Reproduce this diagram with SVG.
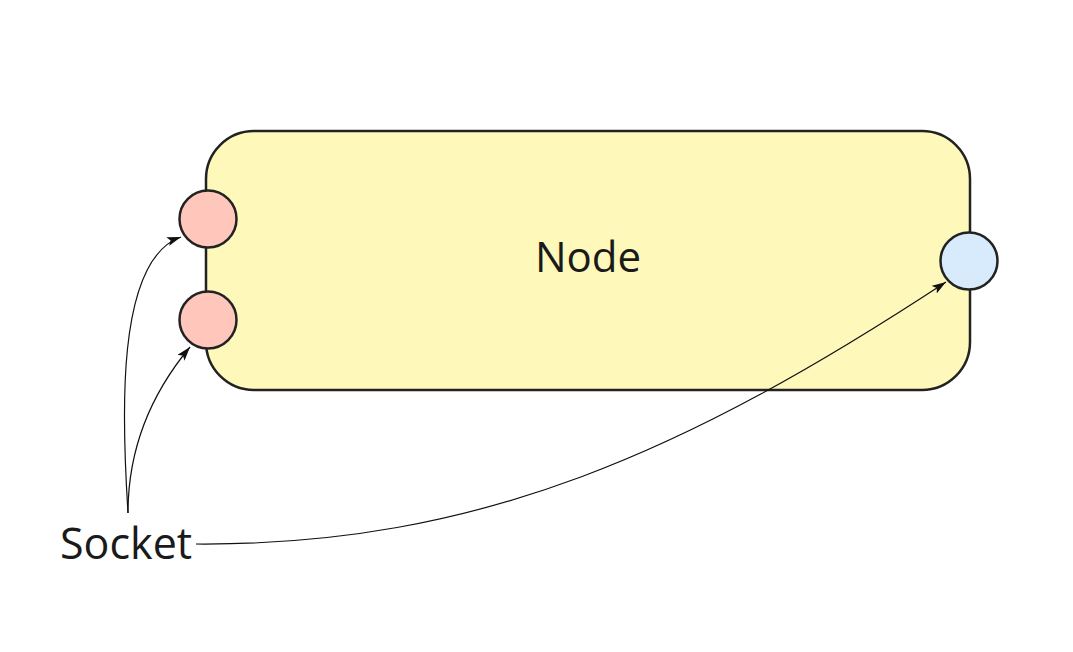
<svg xmlns="http://www.w3.org/2000/svg" width="1073" height="652" viewBox="0 0 1073 652">
<defs>
<marker id="arr" viewBox="0 0 14 10" refX="14" refY="5" markerWidth="14" markerHeight="9" markerUnits="userSpaceOnUse" orient="auto" preserveAspectRatio="none">
<path d="M0,0 L14,5 L0,10 L3,5 Z" fill="#111"/>
</marker>
<style>
.lbl{font-family:"Open Sans","Noto Sans",sans-serif;font-size:42px;fill:#1a1a1a}
.sock{stroke:#222;stroke-width:2.5}
.conn{fill:none;stroke:#111;stroke-width:1.2;marker-end:url(#arr)}
</style>
</defs>
<rect width="1073" height="652" fill="#fff"/>
<g id="node">
<rect x="206" y="131" width="764" height="259" rx="48" ry="48" fill="#fef8ba" stroke="#222" stroke-width="2.5"/>
<text class="lbl" x="588" y="272" text-anchor="middle">Node</text>
</g>
<g id="socket-in-1"><circle class="sock" cx="208" cy="219" r="28.5" fill="#ffc6bc"/></g>
<g id="socket-in-2"><circle class="sock" cx="208" cy="320" r="28.5" fill="#ffc6bc"/></g>
<g id="socket-out"><circle class="sock" cx="969" cy="261" r="28.5" fill="#d8ebfc"/></g>
<g id="socket-label"><text class="lbl" x="60" y="559" style="font-size:43px">Socket</text></g>
<g id="connectors">
<path class="conn" d="M128,513 C122,420 115,260 181,237"/>
<path class="conn" d="M128,513 C128,450 150,395 190,347"/>
<path class="conn" d="M196,544 C480,546 690,450 946,282"/>
</g>
</svg>
